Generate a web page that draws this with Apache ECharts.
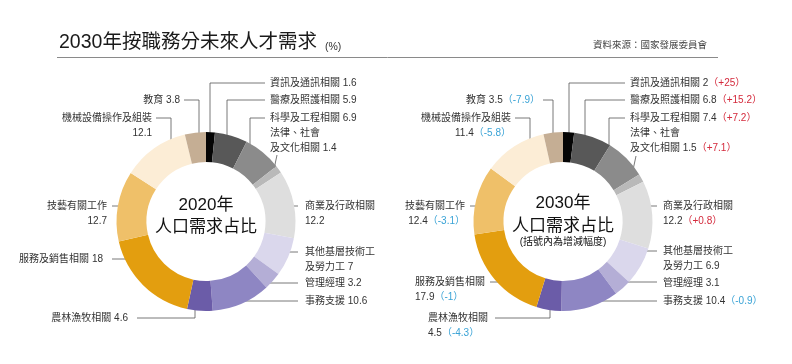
<!DOCTYPE html>
<html><head><meta charset="utf-8">
<script src="https://cdn.jsdelivr.net/npm/echarts@6/dist/echarts.min.js"></script>
<style>html,body{margin:0;padding:0;background:#fff}#c{width:792px;height:364px}</style>
</head><body><div id="c"></div>
<script>
// ---- data ----
const categories = ['資訊及通訊相關','醫療及照護相關','科學及工程相關','法律、社會\n及文化相關','商業及行政相關','其他基層技術工\n及勞力工','管理經理','事務支援','農林漁牧相關','服務及銷售相關','技藝有關工作','機械設備操作及組裝','教育'];
const values2020 = [1.6, 5.9, 6.9, 1.4, 12.2, 7, 3.2, 10.6, 4.6, 18, 12.7, 12.1, 3.8];
const values2030 = [2, 6.8, 7.4, 1.5, 12.2, 6.9, 3.1, 10.4, 4.5, 17.9, 12.4, 11.4, 3.5];
const change2030 = ['+25', '+15.2', '+7.2', '+7.1', '+0.8', null, null, '-0.9', '-4.3', '-1', '-3.1', '-5.8', '-7.9'];
const titleText = '2030年按職務分未來人才需求';
const unitText = '(%)';
const sourceText = '資料來源：國家發展委員會';
const centerTexts2020 = ['2020年', '人口需求占比'];
const centerTexts2030 = ['2030年', '人口需求占比', '(括號內為增減幅度)'];

// ---- styles & layout ----
const colors = ['#050505','#585858','#8b8b8b','#b9b9b9','#dedede','#dad7ec','#b4aed6','#8e86c3','#6b5ca8','#e39e0f','#efc069','#fcedd6','#c5ae94'];
const FONT = "'Liberation Sans','Noto Sans CJK TC',sans-serif";
const LH = 15;
const layout2020 = [
  {x:270,y:83,align:'left',br:false,line:[[210,140],[210,83],[265,83]]},
  {x:270,y:100,align:'left',br:false,line:[[227,142],[227,100],[265,100]]},
  {x:270,y:118,align:'left',br:false,line:[[250,152],[250,118],[265,118]]},
  {x:270,y:133,align:'left',br:false,line:[[274,170],[275.5,162],[277,155]]},
  {x:305,y:206,align:'left',br:true,line:[[285,206],[291,206],[298,206]]},
  {x:305,y:252,align:'left',br:false,line:[[285,252],[291,252],[298,252]]},
  {x:305,y:283,align:'left',br:false,line:[[267,283],[283,283],[298,283]]},
  {x:305,y:301,align:'left',br:false,line:[[224,301],[260,301],[298,301]]},
  {x:128,y:318,align:'right',br:false,line:[[195,308],[195,318],[137,318]]},
  {x:103,y:259,align:'right',br:false,line:[[127,259],[120,259],[112,259]]},
  {x:107,y:206,align:'right',br:true,line:[[127,206],[120,206],[112,206]]},
  {x:152,y:118,align:'right',br:true,line:[[171,152],[171,118],[156,118]]},
  {x:180,y:100,align:'right',br:false,line:[[199,140],[199,100],[184,100]]}
];
const layout2030 = [
  {x:630,y:83,align:'left',br:false,line:[[569,140],[569,83],[625,83]]},
  {x:630,y:100,align:'left',br:false,line:[[585,142],[585,100],[625,100]]},
  {x:630,y:118,align:'left',br:false,line:[[609,152],[609,118],[625,118]]},
  {x:630,y:133,align:'left',br:false,line:[[633,170],[634.5,163],[636,156]]},
  {x:663,y:206,align:'left',br:true,line:[[643,206],[650,206],[657,206]]},
  {x:663,y:251,align:'left',br:false,line:[[643,251],[650,251],[657,251]]},
  {x:663,y:283,align:'left',br:false,line:[[626,282],[640,282],[657,282]]},
  {x:663,y:301,align:'left',br:false,line:[[582,301],[620,301],[657,301]]},
  {x:428,y:318,align:'left',br:true,line:[[550,308],[550,318],[495,318]]},
  {x:415,y:282,align:'left',br:true,line:[[505,282],[497,282],[490,282]]},
  {x:465,y:206,align:'right',br:true,line:[[485,206],[478,206],[470,206]]},
  {x:511,y:118,align:'right',br:true,line:[[530,152],[530,118],[515,118]]},
  {x:540,y:100,align:'right',br:false,line:[[553,140],[553,100],[543,100]]}
];
const pies = [
  {values: values2020, changes: null, layout: layout2020, center: [206, 221.5], texts: centerTexts2020},
  {values: values2030, changes: change2030, layout: layout2030, center: [563, 221.5], texts: centerTexts2030}
];

function makeSeries(p, si) {
  return {
    type: 'pie',
    center: p.center,
    radius: [59.5, 89.5],
    startAngle: 90,
    clockwise: true,
    avoidLabelOverlap: false,
    silent: true,
    animation: false,
    emphasis: {scale: false},
    itemStyle: {borderWidth: 0},
    data: categories.map((c, i) => ({name: c, value: p.values[i], itemStyle: {color: colors[i]}})),
    label: {
      show: true,
      position: 'outside',
      width: 260,
      overflow: 'none',
      formatter: (prm) => {
        const i = prm.dataIndex;
        const L = p.layout[i];
        let s = '{t|' + categories[i] + (L.br ? '\n' : ' ') + p.values[i] + '}';
        if (p.changes && p.changes[i]) {
          const ch = p.changes[i];
          s += '{' + (ch[0] === '+' ? 'r' : 'b') + '|（' + ch + '）}';
        }
        return s;
      },
      rich: {
        t: {fontSize: 10, fontFamily: FONT, color: '#333', lineHeight: LH},
        r: {fontSize: 10, fontFamily: FONT, color: '#d42a3c', lineHeight: LH},
        b: {fontSize: 10, fontFamily: FONT, color: '#3aa3d6', lineHeight: LH}
      }
    },
    labelLine: {show: true, length: 10, length2: 10, lineStyle: {color: '#555', width: 0.8}},
    labelLayout: (prm) => {
      const L = p.layout[prm.dataIndex];
      return {x: L.x, y: L.y - LH / 2, align: L.align, verticalAlign: 'top', labelLinePoints: L.line};
    }
  };
}

const graphics = [
  {type: 'text', x: 59, y: 43, style: {text: titleText, font: "19.5px " + FONT, fill: '#1a1a1a', align: 'left', verticalAlign: 'middle'}},
  {type: 'text', x: 325, y: 47, style: {text: unitText, font: "10.5px " + FONT, fill: '#333', align: 'left', verticalAlign: 'middle'}},
  {type: 'text', x: 707, y: 45, style: {text: sourceText, font: "9.5px " + FONT, fill: '#444', align: 'right', verticalAlign: 'middle'}},
  {type: 'line', shape: {x1: 57, y1: 57.5, x2: 718, y2: 57.5}, style: {stroke: '#8a8a8a', lineWidth: 1}}
];
const centerOffsets = [[-16.5, 5.5], [-18.5, 4.5, 20.5]];
const centerSizes = [[17, 17], [17, 17, 10]];
pies.forEach((p, k) => {
  p.texts.forEach((t, j) => {
    graphics.push({type: 'text', x: p.center[0], y: p.center[1] + centerOffsets[k][j],
      style: {text: t, font: centerSizes[k][j] + "px " + FONT, fill: '#111', align: 'center', verticalAlign: 'middle'}});
  });
});

const chart = echarts.init(document.getElementById('c'), null, {renderer: 'canvas'});
chart.setOption({
  animation: false,
  backgroundColor: '#fff',
  graphic: graphics,
  series: pies.map(makeSeries)
});
</script></body></html>
